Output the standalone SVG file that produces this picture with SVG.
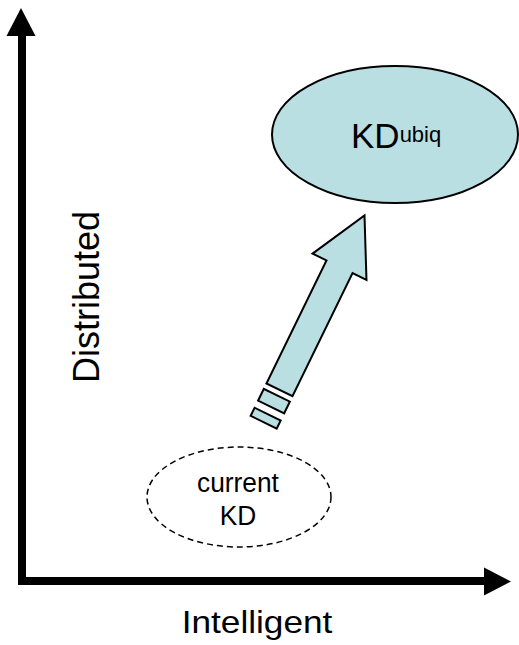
<svg xmlns="http://www.w3.org/2000/svg" width="519" height="645" viewBox="0 0 519 645">
  <style>
    .lbl { font-family: "Liberation Sans", Arial, sans-serif; fill: #000; }
    .axis { stroke: #000; stroke-width: 8; fill: none; }
    .head { fill: #000; }
    .teal { fill: #B9DFE2; stroke: #000; stroke-width: 2; stroke-linejoin: miter; }
  </style>
  <rect width="519" height="645" fill="#fff"/>

  <!-- axes -->
  <g id="axes">
    <line class="axis" x1="22" y1="34" x2="22" y2="585"/>
    <polygon class="head" points="21,8 35.5,36 6.5,36"/>
    <line class="axis" x1="18" y1="581" x2="486" y2="581"/>
    <polygon class="head" points="511,581.5 484,567.5 484,595.5"/>
  </g>

  <!-- axis labels -->
  <text class="lbl" font-size="36" text-anchor="middle" transform="translate(99,297) rotate(-90)">Distributed</text>
  <text class="lbl" font-size="32" text-anchor="middle" transform="translate(257,633) scale(1.1,1)">Intelligent</text>

  <!-- target node -->
  <g id="kd-ubiq">
    <ellipse class="teal" cx="395" cy="134.5" rx="123" ry="68.5"/>
    <text class="lbl" x="351" y="148" font-size="35">KD<tspan font-size="22" dy="-6">ubiq</tspan></text>
  </g>

  <!-- starting node -->
  <g id="current-kd">
    <ellipse cx="239" cy="497" rx="92" ry="50" fill="none" stroke="#000" stroke-width="1.5" stroke-dasharray="6,4"/>
    <text class="lbl" font-size="28" text-anchor="middle" transform="translate(238,492) scale(0.94,1)">current</text>
    <text class="lbl" font-size="28" text-anchor="middle" transform="translate(238,525) scale(0.94,1)">KD</text>
  </g>

  <!-- connector: block arrow with trailing stripes -->
  <g id="connectors">
    <g transform="translate(364.5,215.5) rotate(26)">
      <polygon class="teal" points="0,0 30,57 14.5,57 14.5,194 -14.5,194 -14.5,57 -30,57"/>
      <rect class="teal" x="-14.5" y="200" width="29" height="13"/>
      <rect class="teal" x="-14.5" y="221" width="29" height="9"/>
    </g>
  </g>
</svg>
